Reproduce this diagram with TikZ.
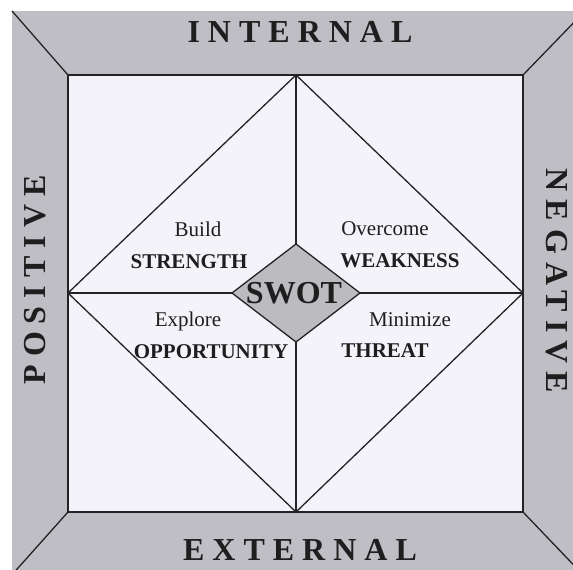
\documentclass[tikz,border=0pt]{standalone}
\usepackage{fontspec}
\setmainfont{Liberation Serif}
\definecolor{bandgray}{RGB}{190,190,196}
\definecolor{innerwhite}{RGB}{244,243,249}
\definecolor{swotgray}{RGB}{188,188,192}
\definecolor{inkline}{RGB}{35,35,38}
\definecolor{inktext}{RGB}{30,30,30}
\newcommand{\spacedword}[1]{{\addfontfeature{LetterSpace=25}#1}}
\begin{document}
\begin{tikzpicture}[x=1pt,y=-1pt,
  edge/.style={draw=inkline,line width=1.3pt},
  sidelabel/.style={font=\fontsize{32}{36}\selectfont\bfseries,text=inktext,inner sep=0pt,anchor=base},
  verb/.style={font=\fontsize{21}{24}\selectfont,text=inktext,inner sep=0pt,anchor=base},
  noun/.style={font=\fontsize{21}{24}\selectfont\bfseries,text=inktext,inner sep=0pt,anchor=base},
  swotlabel/.style={font=\fontsize{32}{35}\selectfont\bfseries,text=inktext,inner sep=0pt,anchor=base}]
\useasboundingbox (0,0) rectangle (573,570);
\fill[white] (0,0) rectangle (573,570);
\begin{scope}
\clip (0,0) rectangle (573,570);
% outer corners
\coordinate (OTL) at (12,11);
\coordinate (OTR) at (585,11);
\coordinate (OBL) at (10,577);
\coordinate (OBR) at (588,580);
% inner corners
\coordinate (ITL) at (68,75);
\coordinate (ITR) at (523,75);
\coordinate (IBL) at (68,512);
\coordinate (IBR) at (523,512);
% big diamond vertices
\coordinate (DT) at (296,75);
\coordinate (DL) at (68,293);
\coordinate (DR) at (523,293);
\coordinate (DB) at (296,512);
% small diamond vertices
\coordinate (ST) at (296,244);
\coordinate (SL) at (232,293);
\coordinate (SR) at (360,293);
\coordinate (SB) at (296,342);

\fill[bandgray] (OTL) rectangle (OBR);
\fill[innerwhite] (ITL) rectangle (IBR);
\draw[edge] (ITL) -- (ITR) -- (IBR) -- (IBL) -- cycle;
\draw[edge] (ITL) -- (OTL);
\draw[edge] (ITR) -- (OTR);
\draw[edge] (IBL) -- (OBL);
\draw[edge] (IBR) -- (OBR);
\draw[edge] (DT) -- (DR) -- (DB) -- (DL) -- cycle;
\draw[edge] (DT) -- (ST);
\draw[edge] (SB) -- (DB);
\draw[edge] (DL) -- (SL);
\draw[edge] (SR) -- (DR);
\filldraw[edge,fill=swotgray] (ST) -- (SR) -- (SB) -- (SL) -- cycle;

\node[sidelabel] (internal) at (296,42) {\spacedword{INTERNAL}\kern-.25em};
\node[sidelabel] (external) at (296,560) {\spacedword{EXTERNAL}\kern-.25em};
\node[sidelabel,rotate=90] (positive) at (45,284) {\spacedword{POSITIVE}\kern-.25em};
\node[sidelabel,rotate=-90] (negative) at (546,277) {\spacedword{NEGATIVE}\kern-.25em};

\node[verb] (build) at (198,236) {Build};
\node[noun] (strength) at (189,268) {STRENGTH};
\node[verb] (overcome) at (385,235) {Overcome};
\node[noun] (weakness) at (400,267) {WEAKNESS};
\node[verb] (explore) at (188,326) {Explore};
\node[noun] (opportunity) at (211,358) {OPPORTUNITY};
\node[verb] (minimize) at (410,326) {Minimize};
\node[noun] (threat) at (385,357) {THREAT};
\node[swotlabel] (swot) at (294,303) {SWOT};
\end{scope}
\end{tikzpicture}
\end{document}
